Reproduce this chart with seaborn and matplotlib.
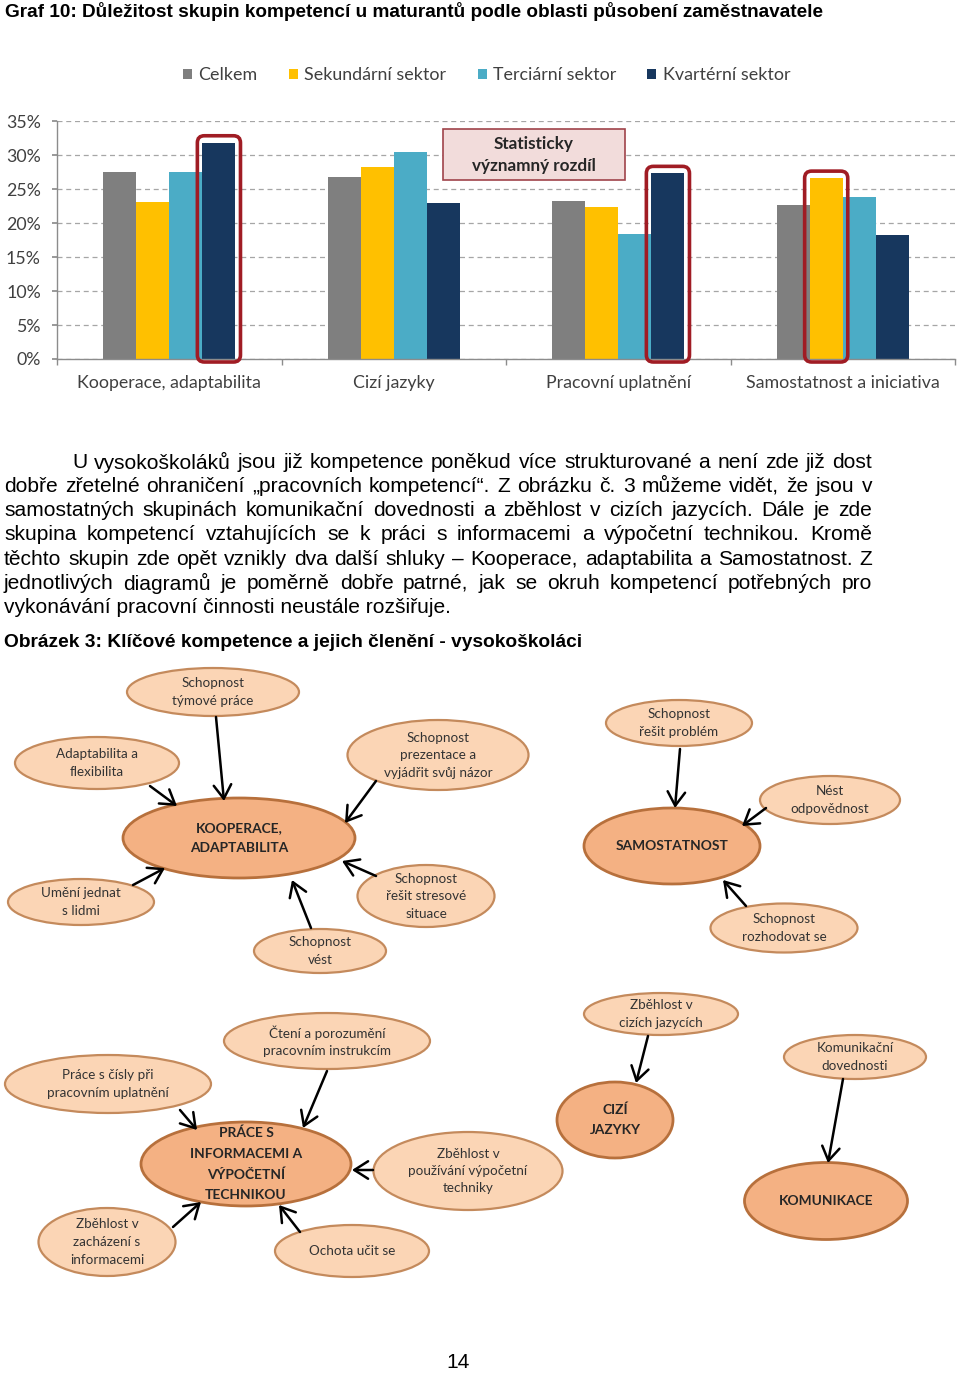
import numpy as np
import pandas as pd
import matplotlib
matplotlib.use("Agg")
import matplotlib.pyplot as plt
import seaborn as sns
from matplotlib.patches import Ellipse, FancyBboxPatch, Rectangle

# ---------------- data ----------------
categories = ["Kooperace, adaptabilita", "Cizí jazyky",
              "Pracovní uplatnění", "Samostatnost a iniciativa"]
series_names = ["Celkem", "Sekundární sektor", "Terciární sektor", "Kvartérní sektor"]
celkem = [27.5, 26.7, 23.2, 22.6]
sekundarni = [23.1, 28.3, 22.3, 26.6]
terciarni = [27.5, 30.5, 18.4, 23.8]
kvarterni = [31.8, 22.9, 27.3, 18.2]
y_ticks = [0, 5, 10, 15, 20, 25, 30, 35]
y_tick_labels = [f"{v}%" for v in y_ticks]
highlights = [(0, 3), (2, 3), (3, 1)]   # (category index, series index)
note_text = "Statisticky\nvýznamný rozdíl"

title_text = ("Graf 10: Důležitost skupin kompetencí u maturantů podle oblasti "
              "působení zaměstnavatele")
paragraph_lines = [
    "U vysokoškoláků jsou již kompetence poněkud více strukturované a není zde již dost",
    "dobře zřetelné ohraničení „pracovních kompetencí“. Z obrázku č. 3 můžeme vidět, že jsou v",
    "samostatných skupinách komunikační dovednosti a zběhlost v cizích jazycích. Dále je zde",
    "skupina kompetencí vztahujících se k práci s informacemi a výpočetní technikou. Kromě",
    "těchto skupin zde opět vznikly dva další shluky – Kooperace, adaptabilita a Samostatnost. Z",
    "jednotlivých diagramů je poměrně dobře patrné, jak se okruh kompetencí potřebných pro",
    "vykonávání pracovní činnosti neustále rozšiřuje.",
]
caption_text = "Obrázek 3: Klíčové kompetence a jejich členění - vysokoškoláci"
page_number = "14"

main_nodes = ["KOOPERACE,\nADAPTABILITA", "SAMOSTATNOST",
              "PRÁCE S\nINFORMACEMI A\nVÝPOČETNÍ\nTECHNIKOU", "CIZÍ\nJAZYKY", "KOMUNIKACE"]
sub_nodes = ["Schopnost\ntýmové práce", "Adaptabilita a\nflexibilita",
             "Schopnost\nprezentace a\nvyjádřit svůj názor", "Umění jednat\ns lidmi",
             "Schopnost\nřešit stresové\nsituace", "Schopnost\nvést",
             "Schopnost\nřešit problém", "Nést\nodpovědnost", "Schopnost\nrozhodovat se",
             "Čtení a porozumění\npracovním instrukcím", "Práce s čísly při\npracovním uplatnění",
             "Zběhlost v\npoužívání výpočetní\ntechniky", "Zběhlost v\nzacházení s\ninformacemi",
             "Ochota učit se", "Zběhlost v\ncizích jazycích", "Komunikační\ndovednosti"]

# ---------------- layout (pixels) ----------------
W, H = 960, 1375
main_geom = [(239, 838, 232, 80), (672, 846, 176, 76), (246, 1164, 210, 84),
             (615, 1120, 116, 76), (826, 1201, 163, 77)]
sub_geom = [(213, 692, 172, 48), (97, 763, 164, 52), (438, 755, 181, 70),
            (81, 902, 146, 46), (426, 896, 137, 62), (320, 951, 132, 44),
            (679, 723, 146, 46), (830, 800, 140, 48), (784, 928, 147, 49),
            (327, 1041, 206, 56), (108, 1084, 206, 58), (468, 1171, 189, 78),
            (107, 1242, 137, 68), (352, 1251, 154, 52), (661, 1014, 154, 42),
            (855, 1057, 142, 44)]
arrows = [((216, 717), (224, 801)), ((150, 786), (177, 806)), ((376, 781), (345, 823)),
          ((133, 885), (165, 868)), ((376, 876), (342, 861)), ((311, 928), (292, 880)),
          ((680, 749), (675, 808)), ((766, 808), (742, 826)), ((746, 906), (723, 880)),
          ((327, 1071), (303, 1128)), ((180, 1110), (197, 1130)), ((373, 1170), (352, 1170)),
          ((173, 1227), (201, 1202)), ((300, 1232), (279, 1205)),
          ((648, 1036), (636, 1083)), ((843, 1079), (828, 1163))]

sns.set_theme(style="white")
plt.rcParams["font.family"] = ["Lato", "DejaVu Sans"]

fig = plt.figure(figsize=(W / 100, H / 100), dpi=100)


def fig_rect(x0, y0, x1, y1):
    return [x0 / W, 1 - y1 / H, (x1 - x0) / W, (y1 - y0) / H]


# ---------------- bar chart ----------------
ax = fig.add_axes(fig_rect(57, 121, 955, 359))
rows = []
for s, vals in zip(series_names, [celkem, sekundarni, terciarni, kvarterni]):
    for c, v in zip(categories, vals):
        rows.append({"Kategorie": c, "Hodnota": v, "Série": s})
df = pd.DataFrame(rows)
palette = ["#7f7f7f", "#ffc000", "#4bacc6", "#17375e"]
sns.barplot(data=df, x="Kategorie", y="Hodnota", hue="Série", hue_order=series_names,
            order=categories, palette=palette, width=0.59, saturation=1,
            errorbar=None, linewidth=0, ax=ax)
ax.set_xlim(-0.5, 3.5)
ax.set_ylim(0, 35)
ax.set_yticks(y_ticks)
ax.set_yticklabels(y_tick_labels)
ax.set_xlabel("")
ax.set_ylabel("")
ax.yaxis.grid(True, linestyle=(0, (4, 3)), color="#a6a6a6", lw=0.9)
ax.xaxis.grid(False)
ax.set_axisbelow(True)
for sp in ["top", "right"]:
    ax.spines[sp].set_visible(False)
for sp in ["left", "bottom"]:
    ax.spines[sp].set_color("#8c8c8c")
    ax.spines[sp].set_linewidth(1.0)
ax.set_xticks([-0.5, 0.5, 1.5, 2.5, 3.5], minor=True)
ax.tick_params(axis="y", left=True, length=3.6, color="#8c8c8c", labelsize=12.8,
               labelcolor="#404040", pad=8)
ax.tick_params(axis="x", which="major", bottom=True, length=0, labelsize=12.8,
               labelcolor="#404040", pad=11.5)
ax.tick_params(axis="x", which="minor", bottom=True, length=4.5, color="#8c8c8c")
handles, labels = ax.get_legend_handles_labels()
ax.legend(handles, labels, loc="center", bbox_to_anchor=(0.4785, 1.193), ncol=4,
          frameon=False, handlelength=0.5, handleheight=0.5, handletextpad=0.35,
          columnspacing=1.75, fontsize=12.9, labelcolor="#404040")

# ---------------- overlay in page pixels ----------------
ov = fig.add_axes([0, 0, 1, 1], zorder=5)
ov.set_xlim(0, W)
ov.set_ylim(H, 0)
ov.axis("off")
ov.patch.set_alpha(0)

# highlight boxes around bars
inv = ov.transData.inverted()
for ci, si in highlights:
    bars = sorted(ax.containers[si], key=lambda p: p.get_x())
    b = bars[ci]
    p0 = inv.transform(ax.transData.transform((b.get_x(), 0)))
    p1 = inv.transform(ax.transData.transform((b.get_x() + b.get_width(), b.get_height())))
    x0, x1 = p0[0] - 5, p1[0] + 5
    ytop, ybot = p1[1] - 7, p0[1] + 3
    ov.add_patch(FancyBboxPatch((x0, ytop), x1 - x0, ybot - ytop,
                                boxstyle="round,pad=0,rounding_size=7",
                                fill=False, ec="#a01c24", lw=2.6))

ov.add_patch(Rectangle((443, 129), 182, 51, fc="#f2dcdb", ec="#a0434a", lw=1.2))
ov.text(534, 155, note_text, ha="center", va="center", fontsize=12.3,
        fontweight="bold", color="#262626", linespacing=1.4)

renderer = fig.canvas.get_renderer()


def text_width(s, size, **kw):
    t = ov.text(0, 0, s, fontsize=size, **kw)
    w = t.get_window_extent(renderer).width
    t.remove()
    return w


def fit_text(x, y, s, width, **kw):
    size = 10 * width / text_width(s, 10, **kw)
    ov.text(x, y, s, fontsize=size, ha="left", va="center", **kw)
    return size


body_kw = dict(family=["Liberation Sans", "DejaVu Sans"], color="black")
fit_text(5, 11, title_text, 821, fontweight="bold", **body_kw)
fit_text(4, 642, caption_text, 577, fontweight="bold", **body_kw)

# paragraph, justified; size = largest that lets every line fit its span
line_left = [72] + [4] * (len(paragraph_lines) - 1)
psize = min(10 * (872 - left) * 0.985 / text_width(line, 10, **body_kw)
            for line, left in zip(paragraph_lines[:-1], line_left[:-1]))
line_y = [462 + i * 24.3 for i in range(len(paragraph_lines))]
for i, line in enumerate(paragraph_lines):
    left = line_left[i]
    if i == len(paragraph_lines) - 1:
        ov.text(left, line_y[i], line, fontsize=psize, ha="left", va="center", **body_kw)
        continue
    words = line.split(" ")
    widths = [text_width(wd, psize, **body_kw) for wd in words]
    gap = (872 - left - sum(widths)) / (len(words) - 1)
    x = left
    for wd, wdw in zip(words, widths):
        ov.text(x, line_y[i], wd, fontsize=psize, ha="left", va="center", **body_kw)
        x += wdw + gap

ov.text(458, 1363, page_number, fontsize=psize, ha="center", va="center", **body_kw)

# ---------------- diagram ----------------
for (cx, cy, w, h), s in zip(sub_geom, sub_nodes):
    ov.add_patch(Ellipse((cx, cy), w, h, fc="#fbd5b5", ec="#c48a5c", lw=1.6))
    ov.text(cx, cy, s, ha="center", va="center", fontsize=9.7, color="#333333",
            linespacing=1.55, multialignment="center")
for (cx, cy, w, h), s in zip(main_geom, main_nodes):
    ov.add_patch(Ellipse((cx, cy), w, h, fc="#f4b183", ec="#b7703c", lw=2.0))
    ov.text(cx, cy, s, ha="center", va="center", fontsize=9.9, fontweight="bold",
            color="#262626", linespacing=1.85, multialignment="center")
for (x0, y0), (x1, y1) in arrows:
    ov.annotate("", xy=(x1, y1), xytext=(x0, y0),
                arrowprops=dict(arrowstyle="->,head_length=0.55,head_width=0.35",
                                color="black", lw=1.8, shrinkA=0, shrinkB=0,
                                mutation_scale=18))

fig.savefig("out.png", dpi=100)
